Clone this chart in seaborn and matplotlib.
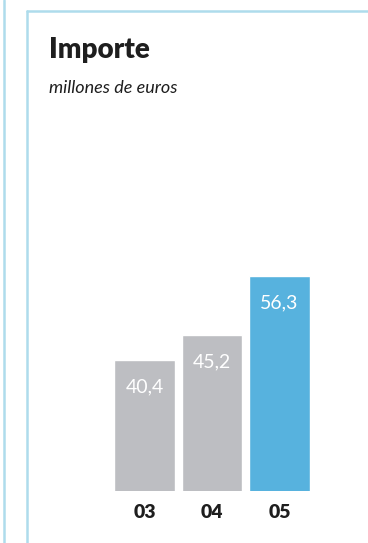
import matplotlib
matplotlib.use("Agg")
import matplotlib.pyplot as plt
from matplotlib.lines import Line2D
import seaborn as sns
import pandas as pd

years = ["03", "04", "05"]
importe = [40.4, 45.2, 56.3]
labels = ["40,4", "45,2", "56,3"]
bar_colors = ["#BDBEC2", "#BDBEC2", "#57B2DE"]

sns.set_theme(style="white")
plt.rcParams['font.family'] = ['Lato', 'DejaVu Sans']

W, H = 368, 543
fig = plt.figure(figsize=(W / 100, H / 100), dpi=100)
fig.patch.set_facecolor("white")

# panel borders
line_col = "#AEDCEC"
fig.add_artist(Line2D([4 / W, 4 / W], [0, 1], color=line_col, lw=1.8))
fig.add_artist(Line2D([26.5 / W, 26.5 / W], [0, 1 - 10.5 / H], color=line_col, lw=1.8))
fig.add_artist(Line2D([26.5 / W, 1], [1 - 10.5 / H, 1 - 10.5 / H], color=line_col, lw=1.8))

ax = fig.add_axes([110.75 / W, (H - 491) / H, 202.5 / W, 234.4 / H])
df = pd.DataFrame({"year": years, "importe": importe})
sns.barplot(data=df, x="year", y="importe", hue="year", palette=bar_colors,
            width=0.89, legend=False, ax=ax, saturation=1)
ax.set_ylim(15.6, 60)
ax.set_xlim(-0.5, 2.5)
ax.set_xlabel("")
ax.set_ylabel("")
ax.set_yticks([])
ax.set_xticks(range(len(years)), years, fontweight="heavy", fontsize=14,
              color="#1E1E1E")
for s in ax.spines.values():
    s.set_visible(False)
ax.tick_params(axis="x", length=0, pad=9)

for i, (v, lab) in enumerate(zip(importe, labels)):
    ax.annotate(lab, xy=(i, v), xytext=(0, -27), textcoords="offset pixels",
                ha="center", va="center", color="white", fontsize=14)

fig.text(49 / W, 1 - 58 / H, "Importe", fontsize=20, fontweight="heavy",
         color="#1E1E1E", va="baseline", ha="left")
fig.text(49 / W, 1 - 93 / H, "millones de euros", fontsize=13, style="italic",
         color="#1E1E1E", va="baseline", ha="left")

fig.savefig("out.png", dpi=100)
